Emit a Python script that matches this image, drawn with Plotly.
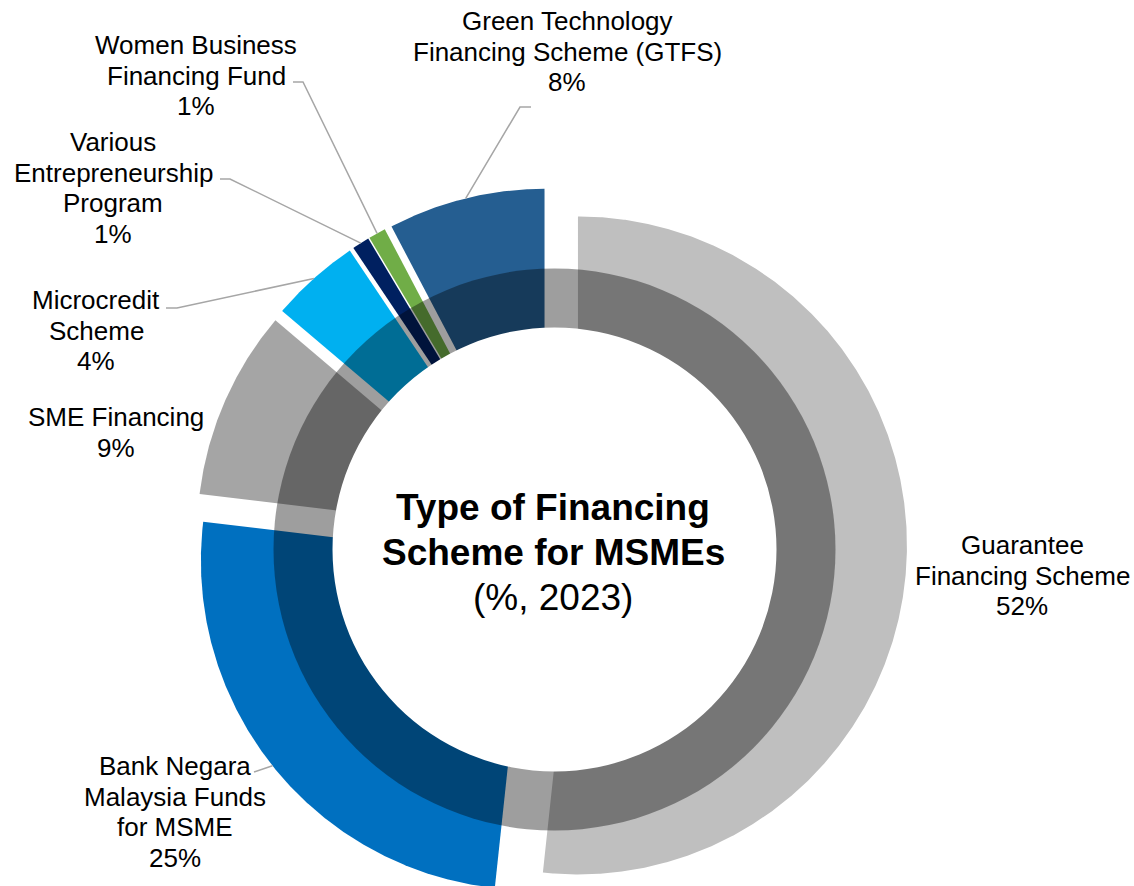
import numpy as np
import plotly.graph_objects as go

# ---------------- data ----------------
categories = [
    "Guarantee Financing Scheme",
    "Bank Negara Malaysia Funds for MSME",
    "SME Financing",
    "Microcredit Scheme",
    "Various Entrepreneurship Program",
    "Women Business Financing Fund",
    "Green Technology Financing Scheme (GTFS)",
]
shares = [51.7, 25.2, 9.3, 4.4, 0.85, 0.85, 7.7]   # % of total (2023)
colors = ["#BFBFBF", "#0070C0", "#A5A5A5", "#00B0F0", "#002060", "#70AD47", "#255E91"]
label_lines = [
    ["Guarantee", "Financing Scheme"],
    ["Bank Negara", "Malaysia Funds", "for MSME"],
    ["SME Financing"],
    ["Microcredit", "Scheme"],
    ["Various", "Entrepreneurship", "Program"],
    ["Women Business", "Financing Fund"],
    ["Green Technology", "Financing Scheme (GTFS)"],
]
title_lines = ["Type of Financing", "Scheme for MSMEs"]
subtitle = "(%, 2023)"

# ---------------- layout constants (page pixel coordinates) ----------------
W, H = 1134, 886
CX, CY = 551.0, 544.0      # pie centre
R = 329.0                  # pie radius
PULL = 27.0                # explode distance
RCX, RCY = 554.5, 549.5    # centre of inner ring / hole
RING_OUT = 281.0
HOLE = 222.0
ALPHA = 0.38
FONT = "Arial, Liberation Sans, Helvetica, sans-serif"
LINE_GAP = 30.7
LEADER = "#A6A6A6"

label_pos = [(1022, 545), (175, 766), (116, 417), (96, 300), (113, 142), (196, 45), (567, 21)]
leader_start = {
    1: [(254, 772)],
    3: [(166, 308), (177, 308)],
    4: [(220, 179), (230, 179)],
    5: [(293, 82), (303, 82)],
    6: [(531, 107), (520, 107)],
}

vals = np.array(shares, dtype=float)
frac = vals / vals.sum()
ends = np.cumsum(frac) * 360.0
starts = ends - frac * 360.0

fig = go.Figure()
mids = []
for i in range(len(vals)):
    a0, a1 = starts[i], ends[i]
    mid = np.radians((a0 + a1) / 2)
    pcx = CX + PULL * np.sin(mid)
    pcy = CY - PULL * np.cos(mid)
    mids.append((pcx + R * np.sin(mid), pcy - R * np.cos(mid)))
    th = np.radians(np.linspace(a0, a1, max(int((a1 - a0) * 4), 8)))
    xs = np.concatenate([[pcx], pcx + R * np.sin(th), [pcx]])
    ys = np.concatenate([[pcy], pcy - R * np.cos(th), [pcy]])
    fig.add_trace(go.Scatter(
        x=xs, y=ys, fill="toself", fillcolor=colors[i], mode="lines",
        line=dict(width=0, color=colors[i]), name=categories[i],
        hoverinfo="name", showlegend=False))

# leader lines
for i, pts in leader_start.items():
    xs = [p[0] for p in pts] + [mids[i][0]]
    ys = [p[1] for p in pts] + [mids[i][1]]
    fig.add_trace(go.Scatter(x=xs, y=ys, mode="lines",
                             line=dict(color=LEADER, width=1.5),
                             hoverinfo="skip", showlegend=False))

# inner darker ring + hole
fig.add_shape(type="circle", xref="x", yref="y",
              x0=RCX - RING_OUT, x1=RCX + RING_OUT, y0=RCY - RING_OUT, y1=RCY + RING_OUT,
              fillcolor=f"rgba(0,0,0,{ALPHA})", line=dict(width=0), layer="above")
fig.add_shape(type="circle", xref="x", yref="y",
              x0=RCX - HOLE, x1=RCX + HOLE, y0=RCY - HOLE, y1=RCY + HOLE,
              fillcolor="white", line=dict(width=0), layer="above")

# slice labels
for i, lines in enumerate(label_lines):
    lx, ly = label_pos[i]
    all_lines = lines + [f"{round(shares[i])}%"]
    for j, t in enumerate(all_lines):
        fig.add_annotation(x=lx, y=ly + j * LINE_GAP, xref="x", yref="y", text=t,
                           showarrow=False, xanchor="center", yanchor="middle",
                           font=dict(family=FONT, size=26, color="black"))

# centre title
for j, t in enumerate(title_lines):
    fig.add_annotation(x=553, y=507 + j * 45, xref="x", yref="y", text=f"<b>{t}</b>",
                       showarrow=False, xanchor="center", yanchor="middle",
                       font=dict(family=FONT, size=37, color="black"))
fig.add_annotation(x=553, y=597, xref="x", yref="y", text=subtitle,
                   showarrow=False, xanchor="center", yanchor="middle",
                   font=dict(family=FONT, size=37, color="black"))

fig.update_layout(
    width=W, height=H, margin=dict(l=0, r=0, t=0, b=0),
    paper_bgcolor="white", plot_bgcolor="white",
    xaxis=dict(range=[0, W], visible=False, fixedrange=True),
    yaxis=dict(range=[H, 0], visible=False, fixedrange=True),
    showlegend=False, hovermode=False,
)

# place the figure flush with the page's top-left corner
fig.write_html("out.html",
               config={"displayModeBar": False, "staticPlot": True},
               post_script="document.body.style.margin='0';document.body.style.overflow='hidden';")
